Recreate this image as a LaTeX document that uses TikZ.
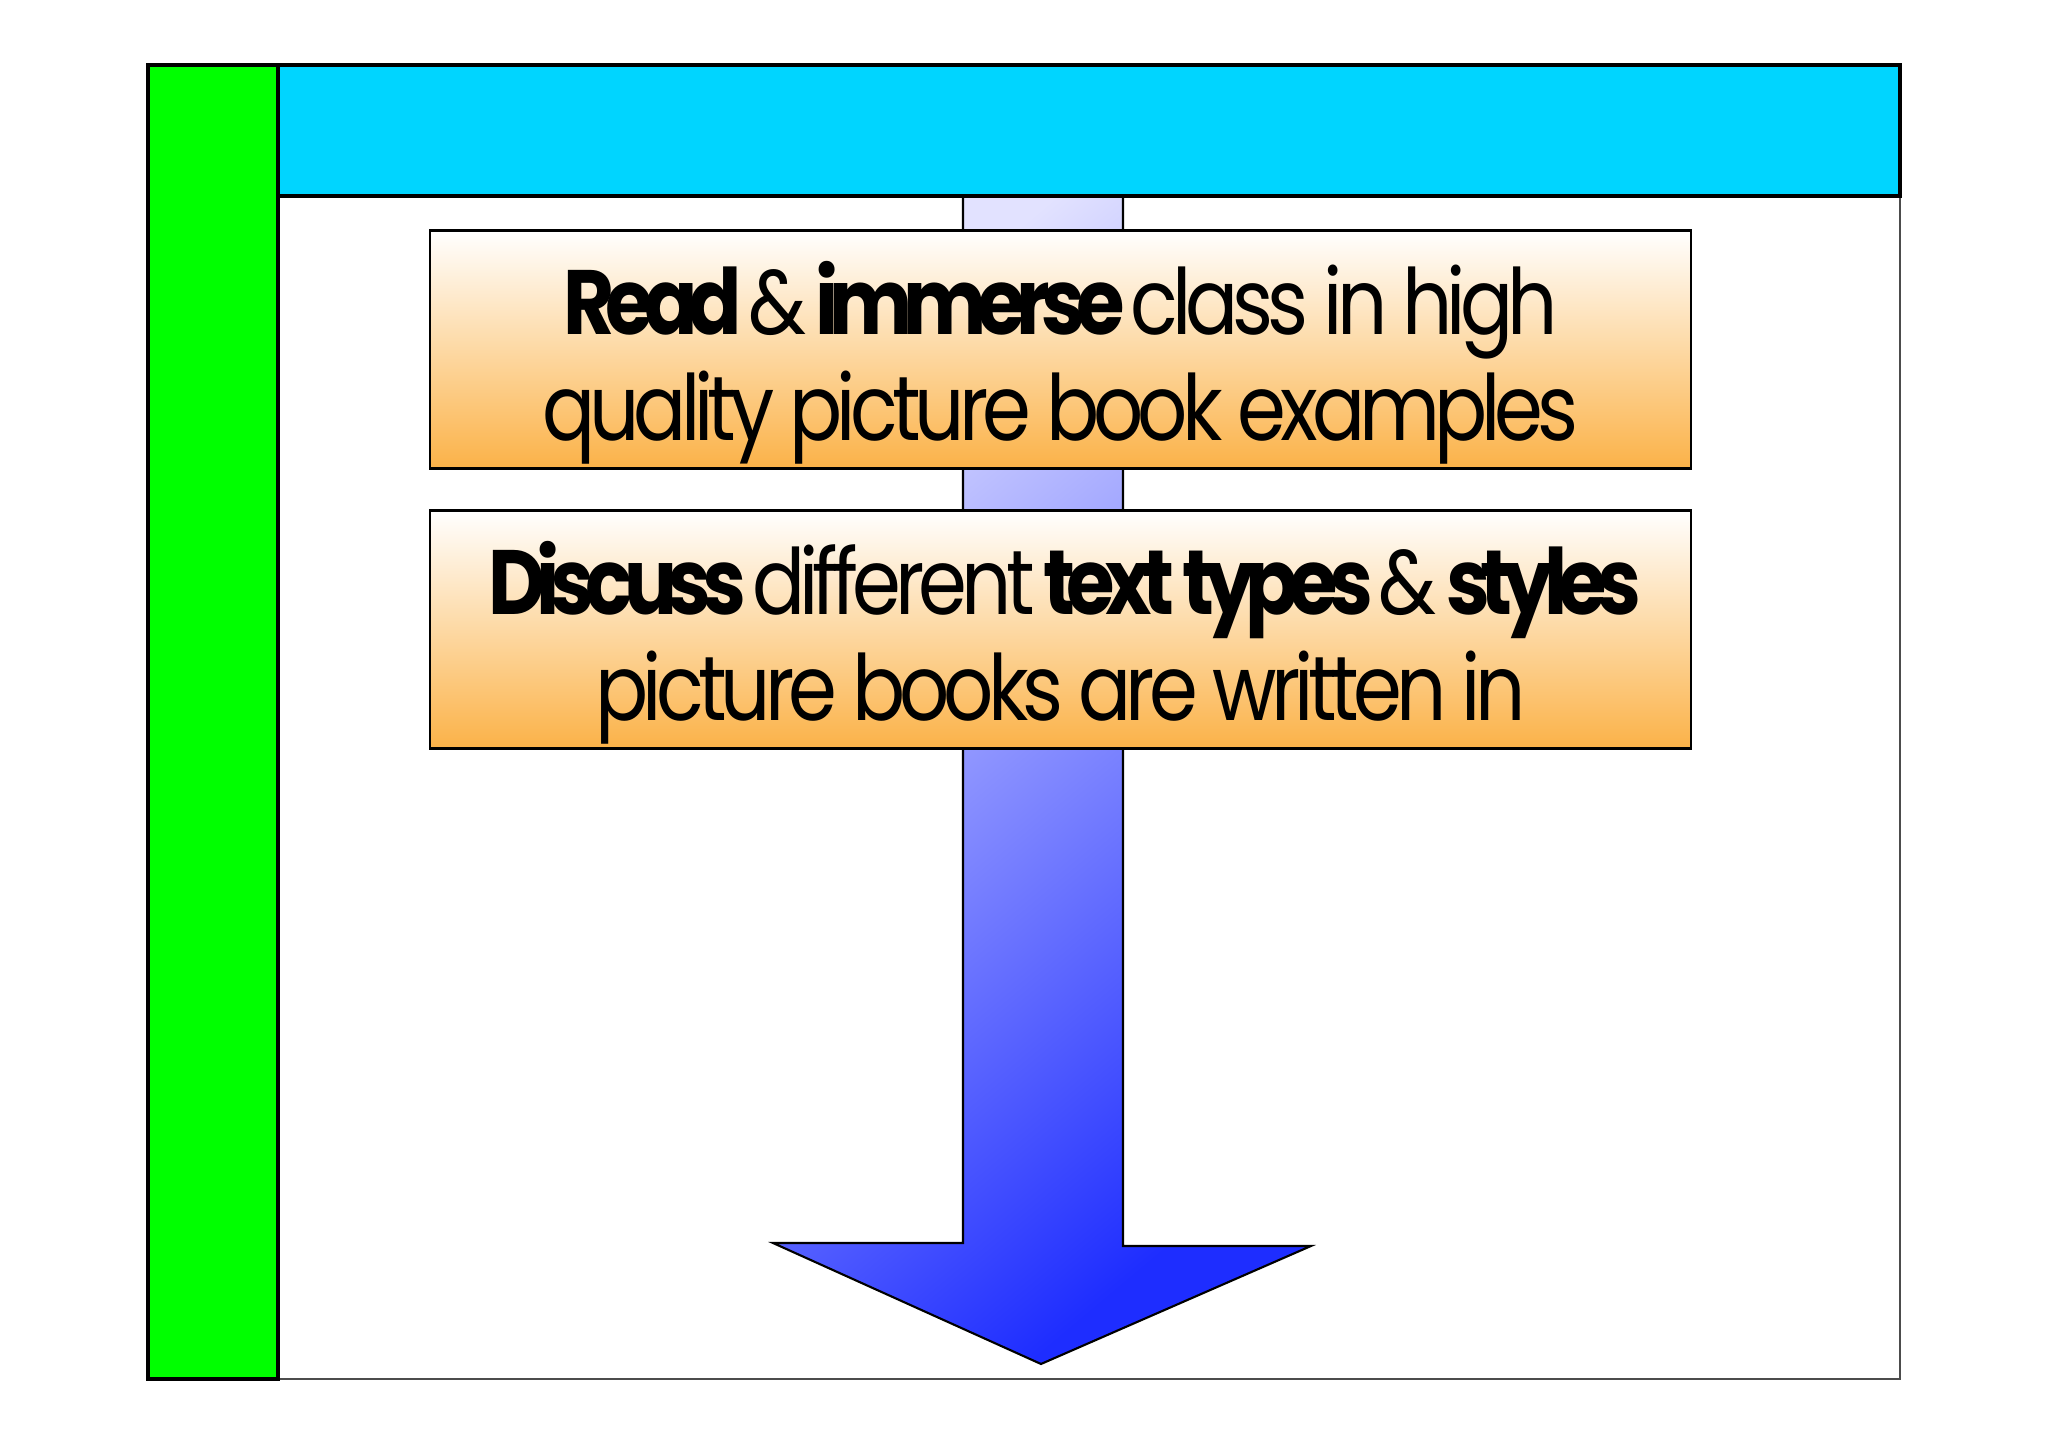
\documentclass[tikz,border=0pt]{standalone}
\usepackage{fontspec}
\usepackage{xcolor}
\newfontfamily\gothic[LetterSpace=-6.5, FakeStretch=0.86,
    BoldFeatures={LetterSpace=-10}]{Poppins}
\usetikzlibrary{positioning, calc}

\definecolor{barcyan}{RGB}{0,213,255}
\definecolor{bargreen}{RGB}{0,255,0}
\definecolor{boxorange}{RGB}{251,178,72}
\definecolor{arrowlight}{RGB}{226,226,255}
\definecolor{arrowdark}{RGB}{30,45,255}
\newcommand{\topstrut}{\rule{0pt}{1.0cm}}

\begin{document}
\begin{tikzpicture}[
    stepbox/.style={draw=black, line width=0.8pt, minimum width=12.61cm,
        minimum height=2.38cm, top color=white, bottom color=boxorange,
        align=center, inner sep=0pt,
        font=\gothic\fontsize{26}{30}\selectfont},
    frameline/.style={draw=black, line width=0.9pt}
]
\useasboundingbox (0,0) rectangle (20.48,-14.47);

% page frame
\draw[draw=black!70, line width=0.8pt, fill=white] (1.48,-0.65) rectangle (19.00,-13.79);

% big arrow behind the boxes
\coordinate (shaftL) at (9.63,-1.96);
\coordinate (shaftR) at (11.23,-1.96);
\coordinate (tip) at (10.41,-13.64);
\shade[draw=black, line width=0.6pt, shading=axis, top color=arrowlight,
    bottom color=arrowdark, shading angle=40]
    (shaftL) -- (shaftR) -- (11.23,-12.46) -- (13.11,-12.46) -- (tip)
    -- (7.73,-12.43) -- (9.63,-12.43) -- cycle;

% coloured bars
\draw[frameline, fill=barcyan] (2.78,-0.65) rectangle (19.00,-1.96);
\draw[frameline, fill=bargreen] (1.48,-0.65) rectangle (2.78,-13.79);

% steps
\node[stepbox] (read) at (10.605,-3.495)
    {\topstrut\textbf{Read} \& \textbf{immerse} class in high\\
     quality picture book examples};
\node[stepbox] (discuss) at (10.605,-6.295)
    {\topstrut\textbf{Discuss} different \textbf{text types} \& \textbf{styles}\\
     picture books are written in};
\end{tikzpicture}
\end{document}
